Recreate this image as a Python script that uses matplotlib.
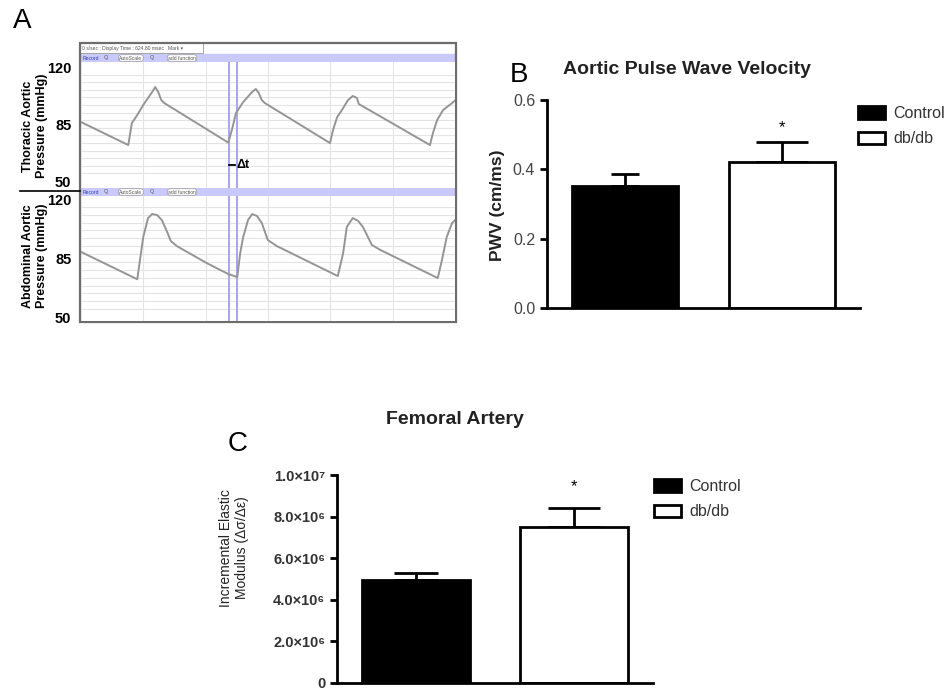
import numpy as np
import matplotlib
matplotlib.use("Agg")
import matplotlib.pyplot as plt
from matplotlib.patches import Rectangle
from matplotlib.lines import Line2D
from matplotlib.ticker import FixedLocator, MultipleLocator

plt.rcParams['font.family'] = ['Liberation Sans', 'DejaVu Sans']

# ---- panel A: pressure traces (time in ms, pressure in mmHg) ----
thor_t = [0, 79, 85, 94, 104, 119, 124, 129, 134, 139, 246, 252, 259, 271, 286,
          292, 297, 302, 307, 416, 421, 428, 436, 446, 454, 461, 464, 583, 588,
          595, 605, 620, 625]
thor_p = [86.2, 72.1, 85.6, 90.5, 96.7, 104.7, 107.7, 104.7, 99.7, 97.9, 73.6,
          81.3, 91.8, 98.5, 104.7, 106.5, 104.0, 99.7, 97.9, 73.3, 81.3, 89.3,
          93.6, 99.7, 102.2, 101.0, 97.3, 72.1, 79.5, 87.5, 93.6, 97.9, 99.5]
abd_t = [0, 94, 99, 104, 112, 119, 127, 135, 144, 150, 160, 210, 246, 261, 266,
         271, 279, 286, 294, 302, 312, 327, 429, 438, 444, 454, 463, 471, 486,
         500, 596, 603, 611, 620, 625]
abd_p = [88.6, 72.4, 85.0, 97.5, 108.7, 111.1, 110.5, 107.5, 100.4, 95.1, 92.1,
         82.0, 75.5, 73.7, 88.0, 97.5, 107.5, 111.1, 109.9, 105.8, 95.7, 92.1,
         74.3, 88.0, 103.4, 108.7, 107.0, 103.4, 92.7, 89.8, 73.1, 83.8, 97.5,
         105.8, 107.5]
cursor_t = [247, 261]
display_ms = 624.8
press_ticks = [50, 85, 120]

# ---- panels B and C: group means and SEM ----
groups = ['Control', 'db/db']
bar_colors = ['black', 'white']
pwv_mean = [0.352, 0.422]
pwv_sem = [0.035, 0.057]
pwv_ticks = [0.0, 0.2, 0.4, 0.6]
pwv_labels = ['0.0', '0.2', '0.4', '0.6']
iem_mean = [4.95e6, 7.5e6]
iem_sem = [0.36e6, 0.92e6]
iem_ticks = [0, 2e6, 4e6, 6e6, 8e6, 1e7]
iem_labels = ['0', '2.0×10⁶', '4.0×10⁶', '6.0×10⁶', '8.0×10⁶', '1.0×10⁷']

W, H = 950, 692
fig = plt.figure(figsize=(9.5, 6.92), dpi=100)


def box(x0, y0, x1, y1):
    # pixel box (top-left origin) -> figure rect
    return [x0 / W, 1 - y1 / H, (x1 - x0) / W, (y1 - y0) / H]


def fx(x):
    return x / W


def fy(y):
    return 1 - y / H


lav = '#c9c9fb'
cur_col = '#a9a9f2'

# ---------------- panel A ----------------
frame = fig.add_axes(box(80, 43, 456, 322))
frame.set_xlim(80, 456)
frame.set_ylim(322, 43)
frame.axis('off')
frame.add_patch(Rectangle((80, 54), 376, 8, color=lav, zorder=1))
frame.add_patch(Rectangle((80, 188), 376, 8, color=lav, zorder=1))
frame.add_patch(Rectangle((80, 43), 203 - 80, 10, fill=False, ec='#999', lw=0.6))
frame.text(82, 48.3, '0 s/sec : Display Time : 624.80 msec   Mark ▾', fontsize=3.6,
           color='#555', va='center')
for yb in [58, 192]:
    frame.text(83, yb, 'Record', fontsize=3.6, color='#3344bb', va='center')
    frame.text(106, yb, 'Q', fontsize=4, color='#555', va='center', ha='center')
    frame.text(131, yb, 'AutoScale', fontsize=3.6, color='#555', va='center', ha='center',
               bbox=dict(boxstyle='round,pad=0.15,rounding_size=0.5', fc='white', ec='#999', lw=0.5))
    frame.text(152, yb, 'Q', fontsize=4, color='#555', va='center', ha='center')
    frame.text(182, yb, 'add function', fontsize=3.6, color='#555', va='center', ha='center',
               bbox=dict(boxstyle='round,pad=0.15,rounding_size=0.5', fc='white', ec='#999', lw=0.5))
frame.add_patch(Rectangle((80, 43), 376, 279, fill=False, ec='#6d6d6d', lw=1.6,
                          clip_on=False, zorder=5))

ax_t = fig.add_axes(box(81, 62, 455, 188))
ax_b = fig.add_axes(box(81, 196, 455, 321))
trace_sets = [(ax_t, thor_t, thor_p, (45.72, 123.07)),
              (ax_b, abd_t, abd_p, (47.64, 121.78))]
for ax, tt, pp, ylim in trace_sets:
    ax.set_xlim(0, display_ms)
    ax.set_ylim(*ylim)
    ax.xaxis.set_minor_locator(MultipleLocator(display_ms / 6))
    ax.yaxis.set_minor_locator(FixedLocator(np.arange(50 - 70 / 15, 124, 70 / 15)))
    ax.grid(which='minor', color='#e4e4e4', lw=0.8)
    ax.set_xticks([])
    ax.set_yticks(press_ticks)
    ax.set_yticklabels([str(v) for v in press_ticks], fontweight='bold', fontsize=10.5)
    ax.tick_params(which='both', length=0, pad=7)
    for s in ax.spines.values():
        s.set_visible(False)
    for ct in cursor_t:
        ax.axvline(ct, color=cur_col, lw=1.5, zorder=3)
    ax.plot(tt, pp, color='#959595', lw=1.4, zorder=4)

ax_t.plot([247, 257], [59.8, 59.8], color='black', lw=1.3, zorder=5)
ax_t.text(260, 59.8, 'Δt', fontsize=9, fontweight='bold', va='center', zorder=5)

fig.text(fx(35), fy(126), 'Thoracic Aortic\nPressure (mmHg)', rotation=90, ha='center',
         va='center', fontsize=9, fontweight='bold', linespacing=1.15)
fig.text(fx(35), fy(256), 'Abdominal Aortic\nPressure (mmHg)', rotation=90, ha='center',
         va='center', fontsize=9, fontweight='bold', linespacing=1.15)
fig.add_artist(Line2D([fx(20), fx(80)], [fy(191), fy(191)], color='black', lw=1.2))

fig.text(fx(22), fy(21), 'A', fontsize=20, ha='center', va='center')
fig.text(fx(519), fy(75), 'B', fontsize=20, ha='center', va='center')
fig.text(fx(238), fy(444), 'C', fontsize=20, ha='center', va='center')


# ---------------- bar panels ----------------
def bar_panel(rect, means, sems, caps, ticks, labels, ylim, tick_kw, star_off):
    ax = fig.add_axes(rect)
    x = np.arange(len(groups))
    bars = ax.bar(x, means, width=0.68, color=bar_colors, edgecolor='black', lw=2,
                  label=groups, zorder=2)
    for i in x:
        ax.errorbar(i, means[i], yerr=[[0], [sems[i]]], color='black', elinewidth=2,
                    capsize=caps[i], capthick=2, zorder=1)
    ax.text(1, means[1] + sems[1] + star_off, '*', ha='center', va='center', fontsize=12)
    ax.set_xlim(-0.5, 1.5)
    ax.set_ylim(*ylim)
    ax.set_xticks([])
    ax.set_yticks(ticks)
    ax.set_yticklabels(labels, **tick_kw)
    ax.tick_params(axis='y', length=5, width=2, direction='out')
    ax.spines['top'].set_visible(False)
    ax.spines['right'].set_visible(False)
    ax.spines['left'].set_linewidth(2)
    ax.spines['bottom'].set_linewidth(2)
    ax.spines['left'].set_bounds(ylim[0], ylim[1])
    return ax, bars


ax_pwv, bars_pwv = bar_panel(box(547, 100, 860, 308), pwv_mean, pwv_sem, [10, 19],
                             pwv_ticks, pwv_labels, (0, 0.6),
                             dict(fontsize=11.5, color='#444'), 0.042)
ax_iem, bars_iem = bar_panel(box(337, 475, 653, 683), iem_mean, iem_sem, [16, 19],
                             iem_ticks, iem_labels, (0, 1e7),
                             dict(fontsize=10.5, color='#333', fontweight='bold'), 1.0e6)

for ax, bars, anchor in [(ax_pwv, bars_pwv, (858, 106)), (ax_iem, bars_iem, (654, 479))]:
    leg = fig.legend(bars, groups, loc='upper left', bbox_to_anchor=(fx(anchor[0]), fy(anchor[1])),
                     frameon=False, fontsize=11.5, handlelength=1.7, handleheight=0.8,
                     handletextpad=0.5, labelspacing=0.65, borderpad=0, borderaxespad=0)
    for t in leg.get_texts():
        t.set_color('#333')

fig.text(fx(687), fy(70), 'Aortic Pulse Wave Velocity', ha='center', va='center',
         fontsize=14, fontweight='bold', color='#222')
fig.text(fx(497), fy(205), 'PWV (cm/ms)', rotation=90, ha='center', va='center',
         fontsize=12.5, fontweight='bold', color='#222')
fig.text(fx(455), fy(420), 'Femoral Artery', ha='center', va='center',
         fontsize=14, fontweight='bold', color='#222')
fig.text(fx(234), fy(548), 'Incremental Elastic\nModulus (Δσ/Δε)', rotation=90, ha='center',
         va='center', fontsize=10, color='#222', linespacing=1.15)

fig.savefig('out.png', dpi=100)
